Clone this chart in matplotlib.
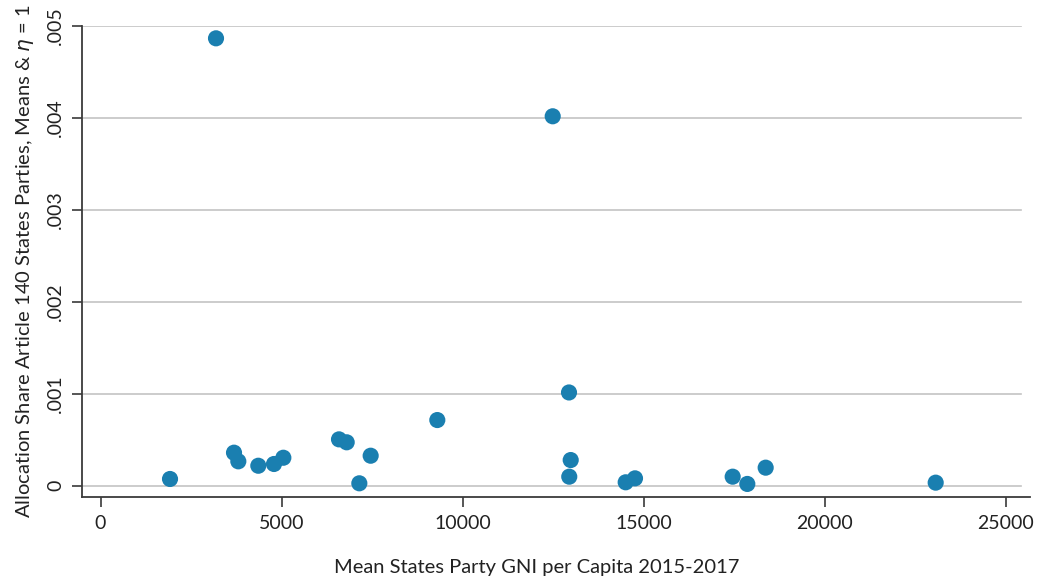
import matplotlib
matplotlib.use("Agg")
import matplotlib.pyplot as plt

gni = [3189, 12485, 12935, 12982, 12942, 14500, 14757, 17454, 17858, 18365, 23059,
       1919, 3686, 3805, 4357, 4790, 5048, 6585, 6797, 7146, 7459, 9299]
share = [0.004866, 0.004018, 0.001014, 0.000279, 0.000098, 0.000037, 0.000080,
         0.000098, 0.000019, 0.000196, 0.000033,
         0.000073, 0.000359, 0.000265, 0.000217, 0.000236, 0.000304, 0.000504,
         0.000472, 0.000026, 0.000326, 0.000714]

xticks = [0, 5000, 10000, 15000, 20000, 25000]
yticks = [0, 0.001, 0.002, 0.003, 0.004, 0.005]
ytick_labels = ["0", ".001", ".002", ".003", ".004", ".005"]

plt.rcParams['font.family'] = ['Lato', 'DejaVu Sans']

fig = plt.figure(figsize=(10.5, 5.82), dpi=100)
ax = fig.add_axes([82/1050, 85/582, (1030-82)/1050, (497-26)/582])

ax.set_xlim(-511, 25663)
ax.set_ylim(-0.000123, 0.005)

grid_end = (1021 - 82) / (1030 - 82)
for y in yticks:
    ax.axhline(y, xmin=0, xmax=grid_end, color='#c4c4c4', lw=1.2, zorder=1)

ax.scatter(gni, share, s=135, color='#1a7fb0', edgecolors='none', zorder=3)

ax.set_xticks(xticks)
ax.set_xticklabels([str(v) for v in xticks])
ax.set_yticks(yticks)
ax.set_yticklabels(ytick_labels, rotation=90, va='center')

for side in ['top', 'right']:
    ax.spines[side].set_visible(False)
for side in ['left', 'bottom']:
    ax.spines[side].set_color('#3a3a3a')
    ax.spines[side].set_linewidth(1.3)

ax.tick_params(axis='both', direction='out', length=7, width=1.2, color='#3a3a3a',
               labelsize=14, labelcolor='#222222', pad=6)

ax.set_xlabel("Mean States Party GNI per Capita 2015-2017", fontsize=14.5,
              color='#222222')
ax.xaxis.set_label_coords((537 - 82) / 948, -(567 - 497) / 471, transform=ax.transAxes)
ax.xaxis.label.set_va('center')
ax.set_ylabel(r"Allocation Share Article 140 States Parties, Means & $\eta$ = 1",
              fontsize=14.5, color='#222222', labelpad=8)

fig.savefig("out.png", dpi=100, facecolor='white')
